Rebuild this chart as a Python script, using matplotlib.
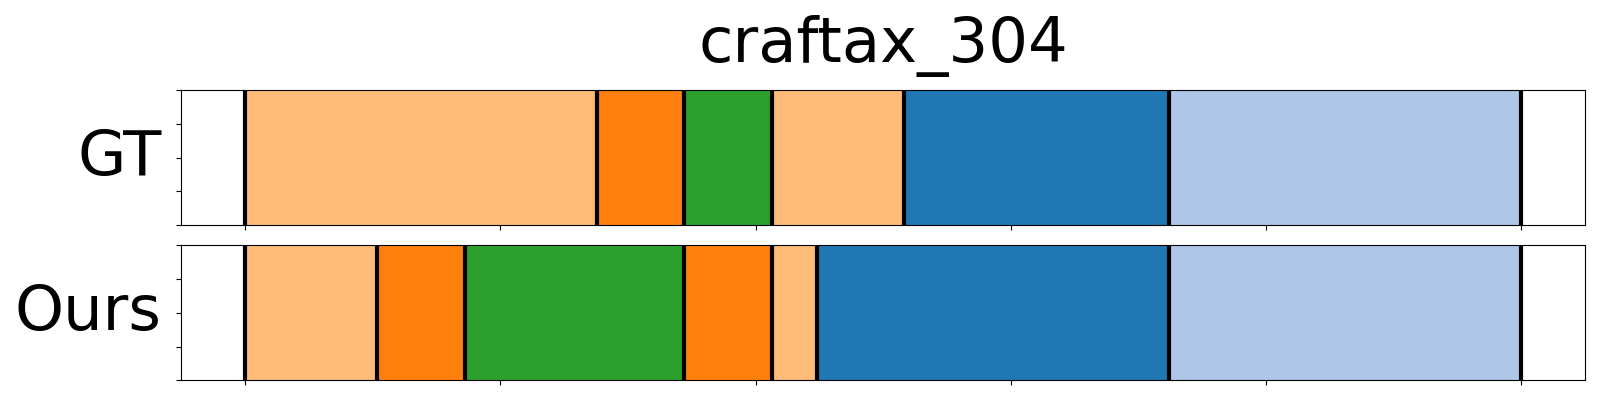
import matplotlib
matplotlib.use("Agg")
import matplotlib.pyplot as plt

title = "craftax_304"
row_labels = ["GT", "Ours"]
total_len = 500
tick_step = 100

# segment boundaries (frame units) and colours per row
gt_bounds = [0, 138, 172, 206.5, 258, 362, 500]
gt_colors = ["#ffbb78", "#ff7f0e", "#2ca02c", "#ffbb78", "#1f77b4", "#aec7e8"]
ours_bounds = [0, 51.5, 86, 172, 206.5, 224, 362, 500]
ours_colors = ["#ffbb78", "#ff7f0e", "#2ca02c", "#ff7f0e", "#ffbb78", "#1f77b4", "#aec7e8"]

rows = [(gt_bounds, gt_colors), (ours_bounds, ours_colors)]

fig = plt.figure(figsize=(16, 4), dpi=100)
axes_pos = [[0.1133, 0.437, 0.8775, 0.3375], [0.1133, 0.049, 0.8775, 0.3375]]

for i, ((bounds, colors), label) in enumerate(zip(rows, row_labels)):
    ax = fig.add_axes(axes_pos[i])
    for j, c in enumerate(colors):
        ax.axvspan(bounds[j], bounds[j + 1], ymin=0, ymax=1, color=c, lw=0.5)
    for b in bounds:
        ax.axvline(b, color="black", lw=3)
    margin = 0.05 * total_len
    ax.set_xlim(-margin, total_len + margin)
    ax.set_ylim(0, 1)
    ax.set_xticks(range(0, total_len + 1, tick_step))
    ax.set_xticklabels([])
    ax.set_yticks([0, 0.25, 0.5, 0.75, 1.0])
    ax.set_yticklabels([])
    ax.set_ylabel(label, fontsize=45, rotation=0, ha="right", va="center", labelpad=7)
    if i == 0:
        ax.set_title(title, fontsize=45, pad=20)

fig.savefig("out.png", dpi=100)
